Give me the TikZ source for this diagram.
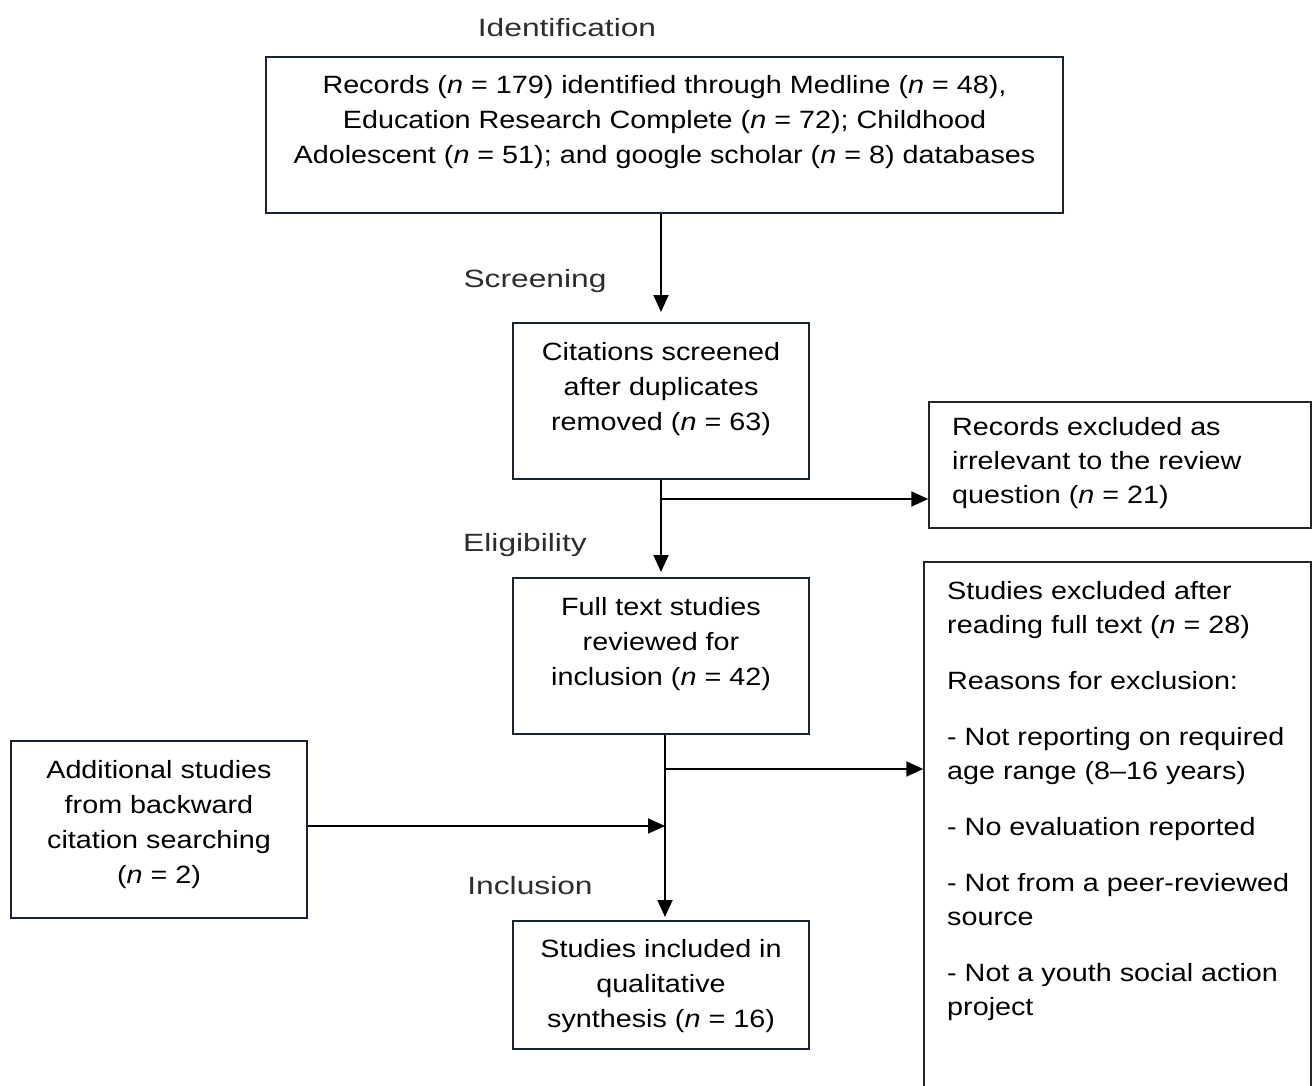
\documentclass[tikz,border=0pt]{standalone}
\usepackage{fontspec}
\setmainfont[FakeStretch=1.15]{Liberation Sans}
\newfontfamily\stagefont[FakeStretch=1.27]{Liberation Sans}
\usetikzlibrary{arrows.meta}
\definecolor{boxc}{RGB}{25,35,50}
\definecolor{stagec}{RGB}{45,45,45}
\begin{document}
\begin{tikzpicture}[x=1pt,y=-1pt,
  box/.style={draw=boxc, line width=2pt, inner sep=0pt},
  sidebox/.style={draw=black!85, line width=1.5pt, inner sep=0pt},
  txt/.style={align=center, inner sep=0pt, font=\fontsize{25}{35}\selectfont},
  ltxt/.style={align=left, inner sep=0pt, font=\fontsize{25}{34}\selectfont},
  stage/.style={inner sep=0pt, text=stagec, font=\stagefont\fontsize{25}{30}\selectfont},
  arr/.style={line width=1.8pt, -{Triangle[length=17pt,width=15pt]}},
  ln/.style={line width=1.8pt}]
\useasboundingbox (0,0) rectangle (1312,1086);

% boxes
\node[box, minimum width=797pt, minimum height=156pt] (top) at (664.5,135) {};
\node[box, minimum width=296pt, minimum height=156pt] (scr) at (661,401) {};
\node[box, minimum width=296pt, minimum height=156pt] (full) at (661,656) {};
\node[box, minimum width=296pt, minimum height=128pt] (incl) at (661,985) {};
\node[box, minimum width=296pt, minimum height=177pt] (add) at (159,829.5) {};
\node[sidebox, minimum width=382pt, minimum height=126pt] (exc1) at (1120,465) {};
\node[sidebox, minimum width=387pt, minimum height=538pt] (exc2) at (1117.5,831) {};

% texts
\node[txt] (toptx) at (664.5,122) {Records (\textit{n} = 179) identified through Medline (\textit{n} = 48),\\ Education Research Complete (\textit{n} = 72); Childhood\\ Adolescent (\textit{n} = 51); and google scholar (\textit{n} = 8) databases};
\node[txt] (scrtx) at (661,389.5) {Citations screened\\ after duplicates\\ removed (\textit{n} = 63)};
\node[txt] (fulltx) at (661,644.5) {Full text studies\\ reviewed for\\ inclusion (\textit{n} = 42)};
\node[txt] (incltx) at (661,986) {Studies included in\\ qualitative\\ synthesis (\textit{n} = 16)};
\node[txt] (addtx) at (159,825) {Additional studies\\ from backward\\ citation searching\\ (\textit{n} = 2)};
\node[ltxt, anchor=west] (exc1tx) at (952,463.5) {Records excluded as\\ irrelevant to the review\\ question (\textit{n} = 21)};
\node[ltxt, anchor=north west] (exc2tx) at (947,581) {Studies excluded after\\ reading full text (\textit{n} = 28)\\[22pt] Reasons for exclusion:\\[22pt] - Not reporting on required\\ age range (8--16 years)\\[22pt] - No evaluation reported\\[22pt] - Not from a peer-reviewed\\ source\\[22pt] - Not a youth social action\\ project};

% stage labels
\node[stage] (lid) at (567,28) {Identification};
\node[stage] (lscr) at (535,281) {Screening};
\node[stage] (lel) at (525,545) {Eligibility};
\node[stage] (lin) at (530,886) {Inclusion};

% connectors
\coordinate (j1) at (661,499);
\coordinate (j2) at (665,769);
\coordinate (j3) at (665,826);
\draw[arr, shorten >=10pt] (top.south -| scr.north) -- (scr.north);
\draw[arr, shorten >=5pt] (scr.south) -- (full.north);
\draw[arr] (j1) -- (j1 -| exc1.west);
\draw[arr, shorten >=3pt] (full.south -| j2) -- (incl.north -| j2);
\draw[arr] (j2) -- (j2 -| exc2.west);
\draw[arr] (add.east |- j3) -- (j3);
\end{tikzpicture}
\end{document}
